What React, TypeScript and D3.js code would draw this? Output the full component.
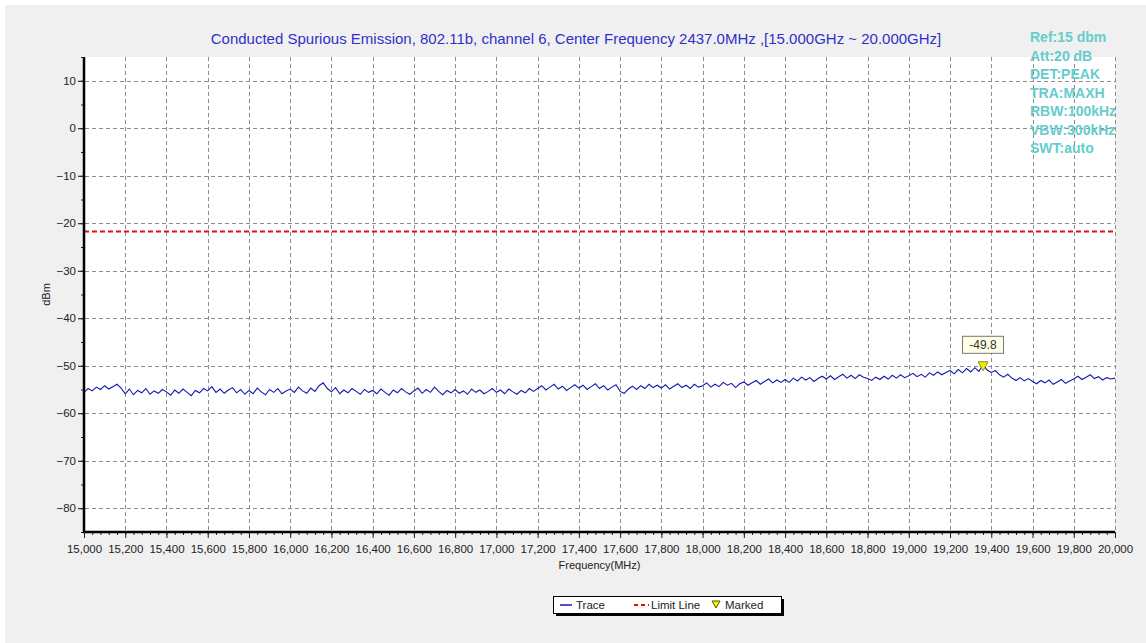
import React, { useEffect, useRef } from 'react';
import * as d3 from 'd3';

// chart text
const chartTitle = 'Conducted Spurious Emission, 802.11b, channel 6, Center Frequency 2437.0MHz ,[15.000GHz ~ 20.000GHz]';
const settingLines = ['Ref:15 dbm', 'Att:20 dB', 'DET:PEAK', 'TRA:MAXH', 'RBW:100kHz', 'VBW:300kHz', 'SWT:auto'];

// axes
const freqDomain = [15000, 20000];
const levelDomain = [-85, 15];
const freqTicks = [15000, 15200, 15400, 15600, 15800, 16000, 16200, 16400, 16600, 16800, 17000, 17200, 17400, 17600, 17800, 18000, 18200, 18400, 18600, 18800, 19000, 19200, 19400, 19600, 19800, 20000];
const levelTicks = [10, 0, -10, -20, -30, -40, -50, -60, -70, -80];

// limit line (dBm)
const limitLevel = -21.76;

// trace, one reading every 20 MHz from 15000 MHz (each row = 200 MHz)
const traceStart = 15000;
const traceStep = 20;
const traceLevels = [
  -55.6, -54.8, -55.3, -54.5, -55.0, -54.2, -54.9, -54.4, -53.9, -54.7,
  -55.9, -54.9, -56.1, -55.2, -55.7, -54.8, -56.0, -55.3, -55.8, -55.0,
  -55.5, -56.2, -55.1, -55.8, -54.9, -55.6, -56.3, -55.2, -55.7, -54.8,
  -55.3, -54.4, -55.6, -54.9, -55.8, -55.1, -54.6, -55.7, -55.0, -56.0,
  -55.2, -55.9, -54.7, -55.5, -56.1, -55.0, -55.6, -54.8, -55.9, -55.3,
  -54.9, -55.6, -54.5, -55.3, -55.8, -54.7, -55.4, -54.2, -53.6, -54.8,
  -55.5, -54.6, -55.9, -55.1, -55.7, -54.8, -55.4, -56.0, -55.0, -55.6,
  -55.2, -55.9, -54.9, -55.6, -56.2, -55.1, -55.7, -54.8, -55.5, -56.0,
  -55.3, -54.7, -55.8, -55.0, -55.6, -54.5, -55.4, -56.1, -55.2, -55.7,
  -55.0, -55.8, -55.3, -56.0, -54.9, -55.6, -55.1, -55.9, -55.4, -54.8,
  -55.6, -55.1, -55.9, -54.9, -55.5, -56.0, -55.2, -55.7, -54.8, -55.4,
  -54.8, -54.2, -55.1, -54.5, -53.9, -54.9, -54.3, -55.2, -54.6, -54.0,
  -54.7, -54.1, -55.0, -54.4, -53.8, -54.8, -54.2, -55.1, -54.5, -54.0,
  -55.4, -55.8, -54.9, -54.3, -55.0, -54.2, -54.8, -53.9, -54.6, -54.1,
  -54.7, -54.0, -54.9, -54.3, -53.8, -54.6, -54.1, -54.8, -53.9, -54.5,
  -54.2, -53.6, -54.5, -53.9, -54.4, -53.5, -54.1, -53.7, -54.6, -53.8,
  -53.4, -54.1, -53.6, -53.1, -53.9, -53.3, -52.8, -53.6, -53.0, -53.5,
  -52.9, -53.5, -52.6, -53.2, -52.4, -53.0, -52.5, -53.3, -52.7, -52.2,
  -52.8, -52.1, -52.9, -52.3, -51.8, -52.6, -52.0, -52.7, -51.9, -52.4,
  -52.7, -53.1, -52.4, -52.9, -52.2, -52.8, -52.0, -52.6, -51.9, -52.5,
  -52.1, -51.6, -52.3, -51.8, -52.4, -51.5, -52.0, -51.3, -51.9, -51.4,
  -51.0, -51.7, -50.8, -51.5, -50.6, -51.3, -50.4, -51.2, -49.8, -50.9,
  -51.4, -51.0, -51.9, -52.4, -51.8, -52.6, -53.1, -52.5, -53.2, -52.7,
  -53.3, -53.8, -53.1, -53.6, -53.0, -53.9, -53.4, -52.9, -53.7, -53.2,
  -52.8, -52.2, -52.9, -52.4, -51.9, -52.7, -52.3, -53.0, -52.5, -52.8,
  -52.6,
];

const FONT = "Arial, 'Liberation Sans', sans-serif";

const SpectrumChart = () => {
  const svgRef = useRef<SVGSVGElement | null>(null);

  useEffect(() => {
    if (svgRef.current) drawChart();
  }, []);

  const drawChart = () => {
    const svg = d3.select(svgRef.current);
    svg.selectAll('*').remove();

    const width = 1146;
    const height = 643;
    const plot = { left: 84, right: 1115, top: 57, bottom: 532 };

    const x = d3.scaleLinear().domain(freqDomain).range([plot.left, plot.right]);
    const y = d3.scaleLinear().domain(levelDomain).range([plot.bottom, plot.top]);

    // background panel
    svg.append('rect').attr('x', 0).attr('y', 0).attr('width', width).attr('height', height).attr('fill', '#fff');
    svg.append('rect').attr('x', 5).attr('y', 5).attr('width', width - 5).attr('height', height - 5).attr('fill', '#f0f0f0');
    svg.append('rect')
      .attr('x', plot.left).attr('y', plot.top)
      .attr('width', plot.right - plot.left).attr('height', plot.bottom - plot.top)
      .attr('fill', '#fff');

    // title
    svg.append('text')
      .attr('x', 576)
      .attr('y', 44)
      .attr('text-anchor', 'middle')
      .style('font-family', FONT).style('font-size', '15px')
      .attr('fill', '#3030c8')
      .text(chartTitle);

    // grid
    const grid = svg.append('g').attr('stroke', '#8c8c8c').attr('stroke-width', 1).attr('stroke-dasharray', '4,3');
    grid.selectAll('.hgrid').data(levelTicks).join('line')
      .attr('x1', plot.left - 6).attr('x2', plot.right)
      .attr('y1', d => Math.round(y(d)) + 0.5).attr('y2', d => Math.round(y(d)) + 0.5);
    grid.selectAll('.vgrid').data(freqTicks.slice(1)).join('line')
      .attr('x1', d => Math.round(x(d)) + 0.5).attr('x2', d => Math.round(x(d)) + 0.5)
      .attr('y1', plot.top).attr('y2', plot.bottom);

    // limit line
    svg.append('line')
      .attr('x1', plot.left).attr('x2', plot.right)
      .attr('y1', y(limitLevel)).attr('y2', y(limitLevel))
      .attr('stroke', '#e01010').attr('stroke-width', 2).attr('stroke-dasharray', '5,3');

    // trace
    const tracePoints = traceLevels.map((v, i) => ({ f: traceStart + i * traceStep, v }));
    const line = d3.line<{ f: number; v: number }>().x(d => x(d.f)).y(d => y(d.v));
    svg.append('path')
      .datum(tracePoints)
      .attr('d', line)
      .attr('fill', 'none')
      .attr('stroke', '#1818b0')
      .attr('stroke-width', 1.1);

    // axes
    const xAxis = svg.append('g').attr('transform', `translate(0, ${plot.bottom})`)
      .call(d3.axisBottom(x).tickValues(d3.range(15000, 20001, 40)).tickSize(3).tickFormat(() => ''));
    xAxis.select('.domain').remove();
    xAxis.selectAll('.tick line').attr('stroke', '#222');

    const xMajor = svg.append('g').attr('transform', `translate(0, ${plot.bottom})`)
      .call(d3.axisBottom(x).tickValues(freqTicks).tickSize(6).tickPadding(7).tickFormat(d3.format(',')));
    xMajor.select('.domain').remove();
    xMajor.selectAll('.tick line').attr('stroke', '#222');
    xMajor.selectAll('text').style('font-family', FONT).style('font-size', '11.5px').attr('fill', '#222');

    const yMinor = svg.append('g').attr('transform', `translate(${plot.left}, 0)`)
      .call(d3.axisLeft(y).tickValues(d3.range(-85, 16, 5)).tickSize(3).tickFormat(() => ''));
    yMinor.select('.domain').remove();
    yMinor.selectAll('.tick line').attr('stroke', '#222');

    const yMajor = svg.append('g').attr('transform', `translate(${plot.left}, 0)`)
      .call(d3.axisLeft(y).tickValues(levelTicks).tickSize(6).tickPadding(2));
    yMajor.select('.domain').remove();
    yMajor.selectAll('.tick line').attr('stroke', '#222');
    yMajor.selectAll('text').style('font-family', FONT).style('font-size', '11.5px').attr('fill', '#222');

    svg.append('line').attr('x1', plot.left).attr('x2', plot.left).attr('y1', plot.top).attr('y2', plot.bottom + 1)
      .attr('stroke', '#000').attr('stroke-width', 2.5);
    svg.append('line').attr('x1', plot.left - 1).attr('x2', plot.right).attr('y1', plot.bottom).attr('y2', plot.bottom)
      .attr('stroke', '#000').attr('stroke-width', 2.5);

    // axis titles
    svg.append('text')
      .attr('transform', `translate(50, ${(plot.top + plot.bottom) / 2}) rotate(-90)`)
      .attr('text-anchor', 'middle')
      .style('font-family', FONT).style('font-size', '11px').attr('fill', '#222')
      .text('dBm');
    svg.append('text')
      .attr('x', (plot.left + plot.right) / 2).attr('y', 569)
      .attr('text-anchor', 'middle')
      .style('font-family', FONT).style('font-size', '11px').attr('fill', '#222')
      .text('Frequency(MHz)');

    // marker at peak
    const peak = tracePoints.reduce((a, b) => (b.v > a.v ? b : a));
    const mx = x(peak.f);
    const my = y(peak.v);
    svg.append('path')
      .attr('d', `M${mx - 5},${my - 3}L${mx + 5},${my - 3}L${mx},${my + 6}Z`)
      .attr('fill', '#f5f000').attr('stroke', '#8a8a20').attr('stroke-width', 1);
    const label = svg.append('g').attr('transform', `translate(${mx}, ${my - 20})`);
    label.append('rect').attr('x', -20.5).attr('y', -8.5).attr('width', 41).attr('height', 17)
      .attr('fill', '#ffffe8').attr('stroke', '#777');
    label.append('text').attr('y', 4.5).attr('text-anchor', 'middle')
      .style('font-family', FONT).style('font-size', '12px').attr('fill', '#333')
      .text(peak.v.toFixed(1));

    // analyzer settings
    svg.append('g').selectAll('text').data(settingLines).join('text')
      .attr('x', 1030).attr('y', (d, i) => 42 + i * 18.5)
      .style('font-family', FONT).style('font-size', '14px').style('font-weight', 'bold')
      .attr('fill', '#66cccc')
      .text(d => d);

    // legend
    const legend = svg.append('g').attr('transform', 'translate(553, 596)');
    legend.append('rect').attr('x', 3).attr('y', 3).attr('width', 228).attr('height', 17).attr('fill', '#000');
    legend.append('rect').attr('x', 0.5).attr('y', 0.5).attr('width', 228).attr('height', 17)
      .attr('fill', '#fff').attr('stroke', '#000');
    legend.append('line').attr('x1', 7).attr('x2', 19).attr('y1', 9).attr('y2', 9).attr('stroke', '#1818b0').attr('stroke-width', 1.5);
    legend.append('line').attr('x1', 81).attr('x2', 96).attr('y1', 9).attr('y2', 9)
      .attr('stroke', '#e01010').attr('stroke-width', 2).attr('stroke-dasharray', '4,3');
    legend.append('path').attr('d', 'M159,5L167,5L163,12Z').attr('fill', '#f5f000').attr('stroke', '#555500');
    const legendText = [{ t: 'Trace', x: 23 }, { t: 'Limit Line', x: 98 }, { t: 'Marked', x: 172 }];
    legend.selectAll('.lt').data(legendText).join('text')
      .attr('x', d => d.x).attr('y', 13)
      .style('font-family', FONT).style('font-size', '11.5px').attr('fill', '#222')
      .text(d => d.t);
  };

  return <svg ref={svgRef} width={1146} height={643} style={{ display: 'block' }} />;
};

export default function App() {
  return (
    <div style={{ position: 'absolute', left: 0, top: 0 }}>
      <SpectrumChart />
    </div>
  );
}
